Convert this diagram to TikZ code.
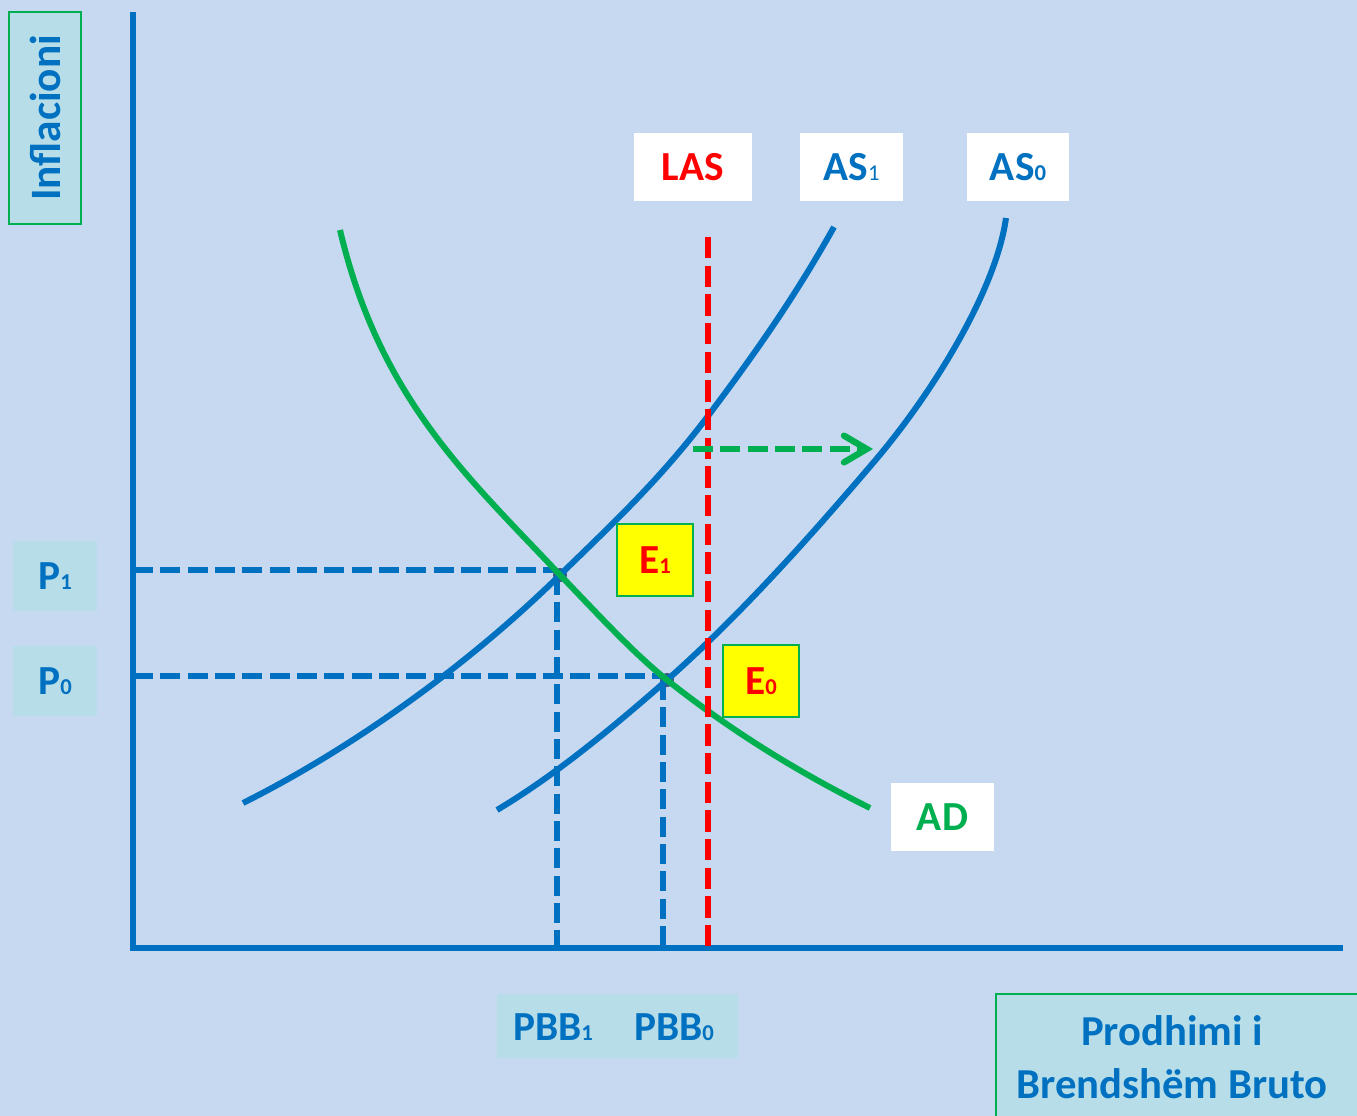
\documentclass[tikz,border=0pt]{standalone}
\usepackage{fontspec}
\setmainfont{Carlito}
\usetikzlibrary{arrows.meta}
\definecolor{bg}{HTML}{C6D9F1}
\definecolor{lbox}{HTML}{B7DEE8}
\definecolor{cblue}{HTML}{0070C0}
\definecolor{cgreen}{HTML}{00B050}
\definecolor{cred}{HTML}{FF0000}
\definecolor{cyel}{HTML}{FFFF00}
\definecolor{cdot}{HTML}{3D5A86}
\newcommand\sbx[1]{{\fontsize{17}{17}\selectfont #1}}
\newcommand\bigf{\fontsize{31}{40}\selectfont\bfseries}
\tikzset{
  axisline/.style={cblue, line width=4.3pt},
  curve/.style={line width=4.5pt},
  guide/.style={cblue, line width=4.5pt, dash pattern=on 15pt off 5.5pt},
  lasline/.style={cred, line width=4.5pt, dash pattern=on 16pt off 5.5pt},
  whitebox/.style={fill=white, inner sep=0pt, minimum width=#1*0.75pt, minimum height=51pt, font=\bigf},
  lightbox/.style={fill=lbox, inner sep=0pt, font=\bigf, text=cblue},
  ebox/.style={fill=cyel, draw=cgreen, line width=1.5pt, inner sep=0pt, minimum width=57pt, minimum height=54pt, font=\bigf, text=cred},
  eqdot/.style={circle, fill=cdot, inner sep=0pt, minimum size=10.5pt},
}
\begin{document}
\begin{tikzpicture}[x=0.75pt,y=-0.75pt]
\useasboundingbox (0,0) rectangle (1357,1116);
\fill[bg] (0,0) rectangle (1357,1116);

% axes
\coordinate (yt) at (133,12);
\coordinate (o) at (133,948);
\coordinate (xr) at (1343,948);
\draw[axisline] (yt) -- (o) -- (xr);

% equilibrium points
\coordinate (e1) at (560,575);
\coordinate (e0) at (667,680);
\coordinate (p1a) at (133,570);
\coordinate (p0a) at (133,676);
\coordinate (q1a) at (557,948);
\coordinate (q0a) at (663,948);

% guide dashed lines
\draw[guide] (p1a) -- (p1a -| q1a);
\draw[guide] (p0a) -- (p0a -| q0a);
\draw[guide] (e1 -| q1a) -- (q1a);
\draw[guide] (e0 -| q0a) -- (q0a);

\node[eqdot] (d1) at (e1) {};
\node[eqdot] (d0) at (e0) {};

% AS1
\draw[curve, cblue] (243,803) .. controls (343,753) and (460,673) .. (e1)
  .. controls (609,527) and (659,481) .. (708,416)
  .. controls (750,360) and (792,302) .. (834,227);
% AS0
\draw[curve, cblue] (497,810) .. controls (554,776) and (610,730) .. (e0)
  .. controls (736,619) and (804,544) .. (873,463)
  .. controls (933,393) and (996,290) .. (1006,218);
% AD
\draw[curve, cgreen] (340,230) .. controls (380,400) and (470,479) .. (e1)
  .. controls (596,612) and (631,651) .. (e0)
  .. controls (735,734) and (802,774) .. (870,808);

% LAS line
\coordinate (lt) at (708,237);
\coordinate (lb) at (708,948);
\draw[lasline] (lt) -- (lb);

% shift arrow
\coordinate (sa) at (693,449);
\coordinate (sb) at (873,449);
\draw[cgreen, line width=4.5pt, dash pattern=on 15pt off 5.5pt,
  -{Straight Barb[length=17pt, width=20pt, line cap=round, line width=4.8pt]}] (sa) -- (sb);

% labels top
\node[whitebox=118, text=cred] (las) at (693,167) {LAS};
\node[whitebox=103, text=cblue] (as1) at (851.5,167) {AS\sbx{\mdseries 1}};
\node[whitebox=102, text=cblue] (as0) at (1018,167) {AS\sbx{0}};
\node[whitebox=103, text=cgreen] (ad) at (942.5,817) {AD};

% E boxes
\node[ebox] (E1) at (655,560) {E\sbx{1}};
\node[ebox] (E0) at (761,681) {E\sbx{0}};

% P labels
\node[lightbox, minimum width=63pt, minimum height=52.5pt] (P1) at (55,576) {P\sbx{1}};
\node[lightbox, minimum width=63pt, minimum height=53pt] (P0) at (55,681) {P\sbx{0}};

% PBB box
\node[lightbox, minimum width=181pt, minimum height=48pt] (pbb) at (617.5,1026) {};
\node[font=\bigf, text=cblue, inner sep=0pt] (pbb1) at (553,1027) {PBB\sbx{1}};
\node[font=\bigf, text=cblue, inner sep=0pt] (pbb0) at (674,1027) {PBB\sbx{0}};

% axis titles
\node[lightbox, draw=cgreen, line width=1.5pt, rotate=90, minimum width=159pt, minimum height=54pt, font=\fontsize{32.5}{40}\selectfont\bfseries] (infl) at (45,118) {Inflacioni};
\node[lightbox, draw=cgreen, line width=1.5pt, anchor=north west, minimum width=279pt, minimum height=98pt] (gdp) at (995,993) {};
\node[font=\fontsize{32}{40}\selectfont\bfseries, text=cblue, align=center, inner sep=0pt] (gdpt) at (1172,1057) {Prodhimi i\\Brendshëm Bruto};
\end{tikzpicture}
\end{document}
